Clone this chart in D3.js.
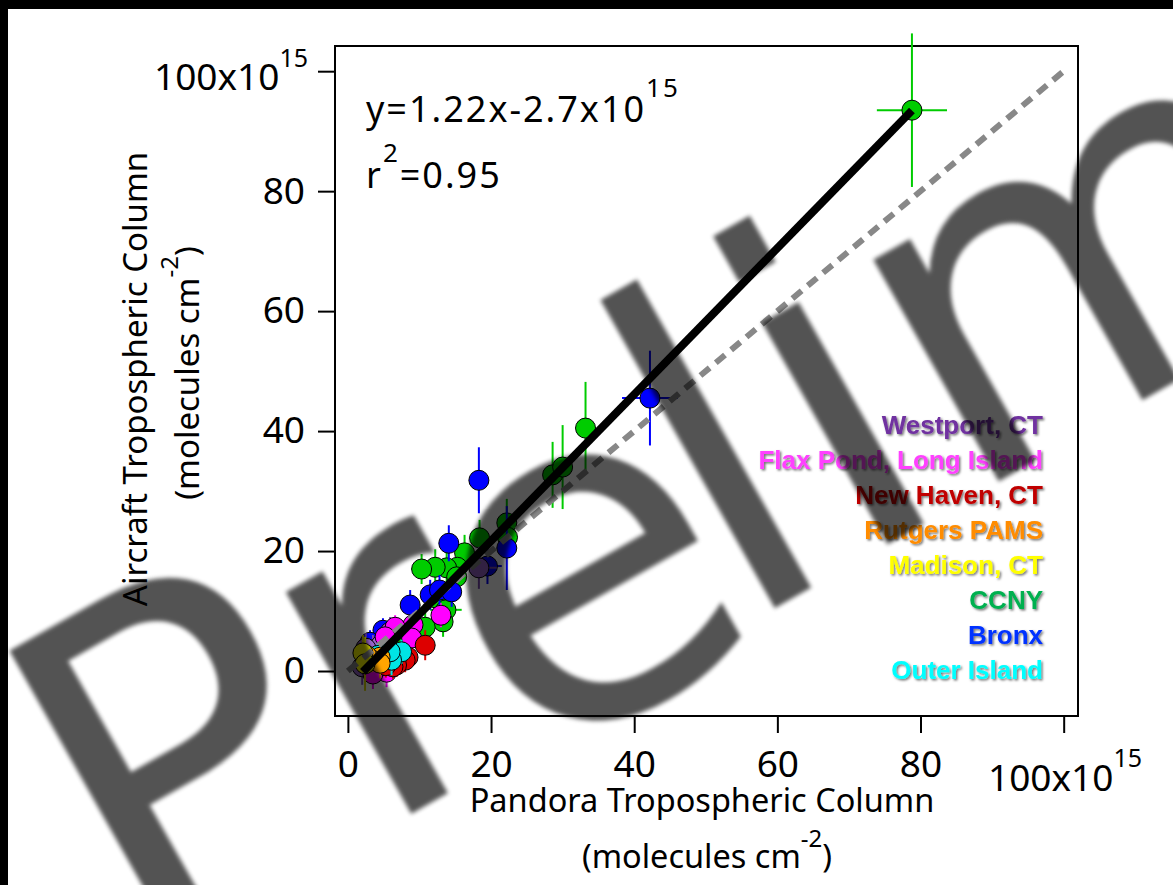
<!DOCTYPE html>
<html><head><meta charset="utf-8">
<script src="https://cdn.jsdelivr.net/npm/d3@7/dist/d3.min.js"></script>
<style>html,body{margin:0;padding:0;background:#fff;overflow:hidden}</style>
</head><body>
<svg id="c" width="1173" height="885"></svg>
<script>
// ---- data: [pandora x, aircraft y, xErr, yErr] (units of 1e15 molecules cm^-2)
const sites = ["Westport, CT","Flax Pond, Long Island","New Haven, CT","Rutgers PAMS","Madison, CT","CCNY","Bronx","Outer Island"];
const legendColors = ["#7030A0","#FF40FF","#C00000","#FF8C00","#FFFF00","#00B050","#0033FF","#00FFFF"];
const markerColors = ["#9966CC","#FF00FF","#DD0000","#FFA500","#FFFF00","#00CC00","#0000FF","#00E5E5"];
const barColors    = ["#7A4AB0","#FF00FF","#DD0000","#FFA500","#D8D800","#00CC00","#0000FF","#00E5E5"];

const westport    = [[18.3,17.2,2.5,3.5],[5.9,6.5,0.6,2.5],[3.5,3.5,0.5,2.5],[2.7,1.8,0.4,2.5],[2.0,0.7,0.4,3.0],[4.6,4.3,0.5,2.0],[2.5,3.8,0.4,2.5]];
const flaxPond    = [[13.0,9.3,1.0,2.0],[9.1,7.7,0.8,2.0],[8.9,5.5,0.8,2.0],[6.6,7.3,0.6,2.0],[5.2,5.7,0.5,2.0],[5.4,-0.2,0.5,2.5],[4.1,0.5,0.4,2.5],[6.9,2.0,0.5,2.0],[3.5,-0.5,0.4,2.5]];
const newHaven    = [[10.8,4.3,0.6,2.5],[8.4,2.3,0.6,2.0],[8.0,1.8,0.5,2.0],[6.8,1.0,0.5,2.0],[6.3,0.7,0.5,2.0],[5.3,0.9,0.5,2.0]];
const rutgers     = [[4.5,2.3,0.4,2.0],[3.4,1.8,0.4,2.0],[4.5,1.3,0.4,2.5],[2.6,2.6,0.3,2.0]];
const madison     = [[2.1,3.0,0.3,3.0],[2.4,1.2,0.3,4.5]];
const ccny        = [[78.8,93.5,4.9,12.8],[33.2,40.5,1.4,7.7],[28.6,32.7,1.0,5.5],[30.0,34.0,1.0,7.0],[22.2,24.7,0.8,4.0],[22.3,22.3,0.8,3.5],[18.4,22.2,0.8,3.0],[16.3,19.7,0.8,3.0],[15.3,17.3,1.0,3.0],[13.8,17.2,1.0,3.0],[12.2,17.3,1.0,3.0],[10.3,17.0,1.4,2.5],[15.2,15.7,0.8,3.0],[12.2,12.2,0.8,2.5],[13.7,10.2,2.2,3.0],[13.3,8.2,0.8,2.5],[10.8,7.3,0.8,2.5],[7.0,5.2,0.6,2.5]];
const bronx       = [[42.2,45.5,3.9,7.9],[18.3,31.8,0.5,5.5],[22.2,20.5,0.8,7.0],[14.1,21.3,0.8,3.0],[19.5,17.5,2.0,3.0],[11.5,12.7,0.8,2.5],[12.8,13.5,0.8,2.5],[14.5,13.2,0.8,2.5],[8.7,11.0,0.6,2.5],[4.9,6.8,0.5,2.0],[3.1,4.8,0.5,2.0]];
const outerIsland = [[7.5,3.2,0.5,2.0],[6.1,1.8,0.5,2.5],[5.9,3.2,0.5,2.0],[4.2,2.6,0.4,2.0]];

const siteData = [westport, flaxPond, newHaven, rutgers, madison, ccny, bronx, outerIsland];
const drawOrder = [5, 6, 0, 1, 2, 7, 3, 4];

const tickValues = [0, 20, 40, 60, 80, 100];
const fitSlope = 1.22, fitIntercept = -2.7, fitRange = [2.1, 78.8];
const oneToOne = [0, 100];

// ---- layout
const svg = d3.select("#c");
const x = d3.scaleLinear().domain([-1.8, 102]).range([335, 1078]);
const y = d3.scaleLinear().domain([-7.5, 104.2]).range([716, 46]);
const FONT = "'Noto Sans', 'Open Sans', sans-serif";

svg.append("rect").attr("width",1173).attr("height",885).attr("fill","#fff");

const defs = svg.append("defs");
defs.append("filter").attr("id","blur").attr("x","-10%").attr("y","-10%").attr("width","120%").attr("height","120%")
  .append("feGaussianBlur").attr("stdDeviation", 2.2);
const sh = defs.append("filter").attr("id","shadow").attr("x","-5%").attr("y","-20%").attr("width","110%").attr("height","150%");
sh.append("feDropShadow").attr("dx",1.5).attr("dy",1.5).attr("stdDeviation",0.8).attr("flood-color","#000").attr("flood-opacity",0.55);

// axes
const yAxis = d3.axisLeft(y).tickValues(tickValues).tickSize(17).tickPadding(13)
  .tickFormat(d => d === 100 ? "" : d);
const xAxis = d3.axisBottom(x).tickValues(tickValues).tickSize(17).tickPadding(18)
  .tickFormat(d => d === 100 ? "" : d);

const gy = svg.append("g").attr("transform","translate(335,0)").call(yAxis);
const gx = svg.append("g").attr("transform","translate(0,716)").call(xAxis);
[gy, gx].forEach(g => {
  g.select(".domain").remove();
  g.selectAll(".tick line").attr("stroke","#000").attr("stroke-width",2);
  g.selectAll(".tick text").attr("fill","#000").style("font-family",FONT).style("font-size","37px");
});

// exponent labels
const yl = svg.append("text").attr("x",308).attr("y",90).attr("text-anchor","end")
  .style("font-family",FONT).style("font-size","37px").attr("fill","#000");
yl.append("tspan").text("100x10");
yl.append("tspan").attr("dy",-23).style("font-size","25px").text("15");
const xl = svg.append("text").attr("x",988).attr("y",791)
  .style("font-family",FONT).style("font-size","37px").attr("fill","#000");
xl.append("tspan").text("100x10");
xl.append("tspan").attr("dy",-24).style("font-size","25px").text("15");

// frame
svg.append("rect").attr("x",x.range()[0]).attr("y",y.range()[1])
  .attr("width",x.range()[1]-x.range()[0]).attr("height",y.range()[0]-y.range()[1])
  .attr("fill","none").attr("stroke","#000").attr("stroke-width",2);

// axis titles
svg.append("text").attr("x",702).attr("y",812).attr("text-anchor","middle")
  .style("font-family",FONT).style("font-size","32.5px").text("Pandora Tropospheric Column");
const xs = svg.append("text").attr("x",707).attr("y",868).attr("text-anchor","middle")
  .style("font-family",FONT).style("font-size","32.5px");
xs.append("tspan").text("(molecules cm");
xs.append("tspan").attr("dy",-21).style("font-size","24px").text("-2");
xs.append("tspan").attr("dy",21).text(")");

svg.append("text").attr("transform","translate(147,379) rotate(-90)").attr("text-anchor","middle")
  .style("font-family",FONT).style("font-size","33px").text("Aircraft Tropospheric Column");
const ys = svg.append("text").attr("transform","translate(199,373) rotate(-90)").attr("text-anchor","middle")
  .style("font-family",FONT).style("font-size","33px");
ys.append("tspan").text("(molecules cm");
ys.append("tspan").attr("dy",-21).style("font-size","24px").text("-2");
ys.append("tspan").attr("dy",21).text(")");

// equation
const eq = svg.append("text").attr("x",366).attr("y",122)
  .style("font-family",FONT).style("font-size","36px").style("letter-spacing","2px");
eq.append("tspan").text("y=" + fitSlope + "x" + fitIntercept + "x10");
eq.append("tspan").attr("dy",-25).style("font-size","26px").text("15");
const r2 = svg.append("text").attr("x",366).attr("y",188)
  .style("font-family",FONT).style("font-size","36px").style("letter-spacing","2px");
r2.append("tspan").text("r");
r2.append("tspan").attr("dy",-26).style("font-size","26px").text("2");
r2.append("tspan").attr("dy",26).text("=0.95");

// data: error bars + markers
const plot = svg.append("g");
drawOrder.forEach(si => {
  const g = plot.append("g");
  const pts = siteData[si];
  g.selectAll("line.v").data(pts).join("line")
    .attr("x1",d=>x(d[0])).attr("x2",d=>x(d[0]))
    .attr("y1",d=>y(d[1]-d[3])).attr("y2",d=>y(d[1]+d[3]))
    .attr("stroke",barColors[si]).attr("stroke-width",2);
  g.selectAll("line.h").data(pts).join("line")
    .attr("y1",d=>y(d[1])).attr("y2",d=>y(d[1]))
    .attr("x1",d=>x(d[0]-d[2])).attr("x2",d=>x(d[0]+d[2]))
    .attr("stroke",barColors[si]).attr("stroke-width",2);
  g.selectAll("circle").data(pts).join("circle")
    .attr("cx",d=>x(d[0])).attr("cy",d=>y(d[1])).attr("r",10)
    .attr("fill",markerColors[si]).attr("stroke","#000").attr("stroke-width",1);
});

// 1:1 line
svg.append("line").attr("x1",x(oneToOne[0])).attr("y1",y(oneToOne[0]))
  .attr("x2",x(oneToOne[1])).attr("y2",y(oneToOne[1]))
  .attr("stroke","#888").attr("stroke-width",6).attr("stroke-dasharray","12,8");
// fit line
svg.append("line").attr("x1",x(fitRange[0])).attr("y1",y(fitSlope*fitRange[0]+fitIntercept))
  .attr("x2",x(fitRange[1])).attr("y2",y(fitSlope*fitRange[1]+fitIntercept))
  .attr("stroke","#000").attr("stroke-width",8);

// legend
svg.append("g").selectAll("text").data(sites).join("text")
  .attr("x",1043).attr("y",(d,i)=>434+i*35).attr("text-anchor","end")
  .style("font-family","'Liberation Sans', Arial, sans-serif").style("font-weight","bold")
  .style("font-size","26px").attr("fill",(d,i)=>legendColors[i]).attr("filter","url(#shadow)")
  .text(d=>d);

// watermark
const wm = svg.append("text").attr("transform","translate(137,969) rotate(-29.5)")
  .style("font-family","'DejaVu Sans', sans-serif").style("font-size","466px")
  .attr("fill","#000").attr("opacity",0.67).attr("filter","url(#blur)");
wm.append("tspan").text("Pr");
wm.append("tspan").attr("dx",-17).attr("dy",21).text("e");
wm.append("tspan").attr("dx",-35).attr("dy",-21).text("lim");

// screen-capture borders
svg.append("rect").attr("x",0).attr("y",0).attr("width",1173).attr("height",9).attr("fill","#000");
svg.append("rect").attr("x",0).attr("y",0).attr("width",8).attr("height",885).attr("fill","#000");
</script>
</body></html>
